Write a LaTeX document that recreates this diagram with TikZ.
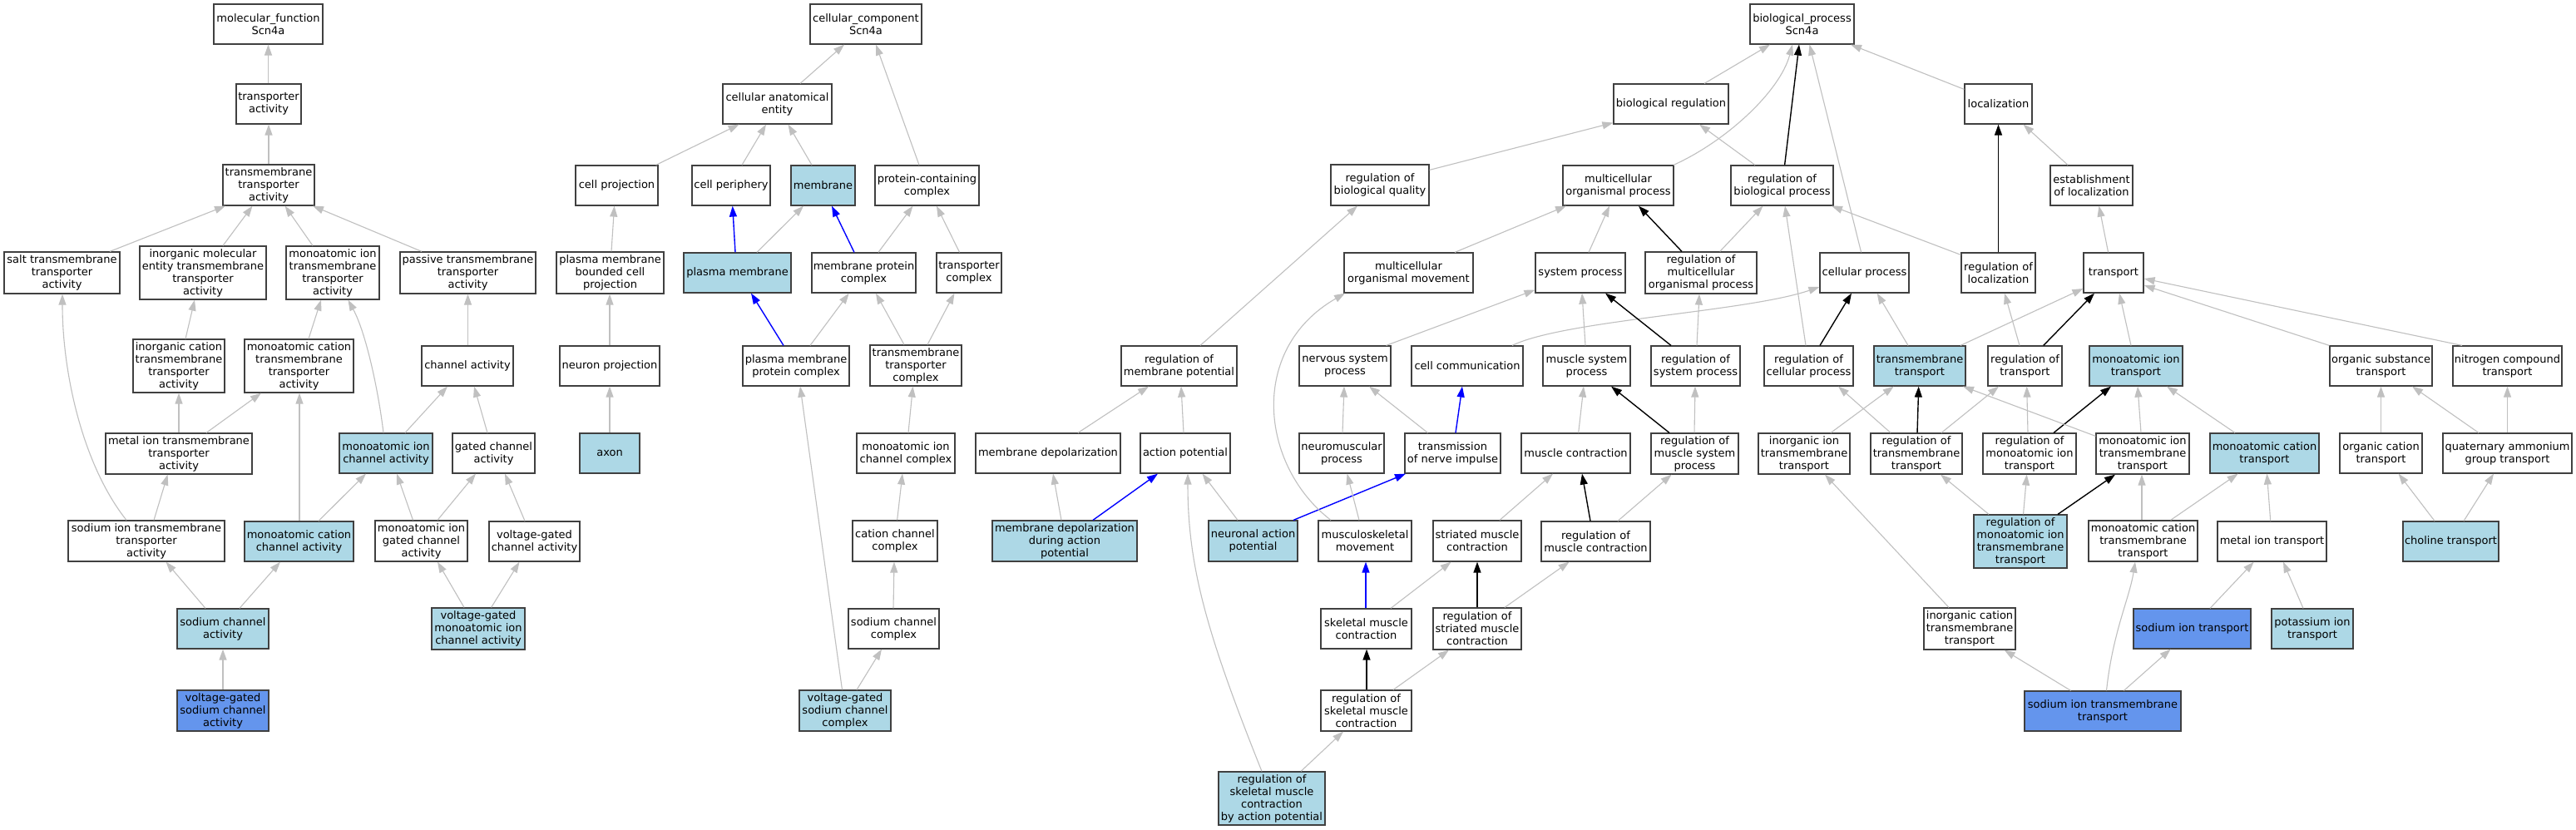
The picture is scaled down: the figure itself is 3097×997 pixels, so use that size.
\documentclass[tikz,border=0pt]{standalone}
\usepackage{fontspec}
\setmainfont{DejaVu Sans}
\usetikzlibrary{arrows.meta}
\definecolor{lb}{HTML}{ADD8E6}
\definecolor{cf}{HTML}{6495ED}
\definecolor{eg}{HTML}{C0C0C0}
\definecolor{bd}{HTML}{404040}
\tikzset{
 box/.style={draw=bd, line width=1.2pt, fill=white, inner sep=0pt, align=center, font=\fontsize{13}{15}\selectfont},
 sz/.style 2 args={minimum width=#1pt, minimum height=#2pt},
 lbf/.style={fill=lb}, cff/.style={fill=cf},
 ge/.style={draw=eg, line width=1.1pt, -{Triangle[length=13pt,width=9pt]}},
 be/.style={draw=black, line width=1.4pt, -{Triangle[length=13pt,width=9pt]}},
 ue/.style={draw=blue, line width=1.4pt, -{Triangle[length=13pt,width=9pt]}},
}
\newcommand\myedge[5][ge]{\draw[#1] (#2.north -| #3,0) -- (#4.south -| #5,0);}
\begin{document}
\begin{tikzpicture}[x=1pt,y=-1pt]
\fill[white] (0,0) rectangle (3097,997);
\useasboundingbox (0,0) rectangle (3097,997);
% ---------------- MF
\node[box,sz={131}{48}] (mf) at (322.5,29) {molecular\_function\\Scn4a};
\node[box,sz={78}{48}] (ta) at (323,125) {transporter\\activity};
\node[box,sz={110}{49}] (tmta) at (323,222.5) {transmembrane\\transporter\\activity};
\node[box,sz={139}{50}] (salt) at (74.5,328) {salt transmembrane\\transporter\\activity};
\node[box,sz={152}{64}] (imeta) at (244,328) {inorganic molecular\\entity transmembrane\\transporter\\activity};
\node[box,sz={112}{64}] (mitmta) at (400,328) {monoatomic ion\\transmembrane\\transporter\\activity};
\node[box,sz={163}{50}] (passive) at (562.5,328) {passive transmembrane\\transporter\\activity};
\node[box,sz={110}{64}] (icta) at (215,440) {inorganic cation\\transmembrane\\transporter\\activity};
\node[box,sz={131}{64}] (mcta) at (359.5,440) {monoatomic cation\\transmembrane\\transporter\\activity};
\node[box,sz={110}{48}] (cha) at (562,440) {channel activity};
\node[box,sz={176}{49}] (mita) at (215,545.5) {metal ion transmembrane\\transporter\\activity};
\node[box,lbf,sz={112}{48}] (mica) at (464,545) {monoatomic ion\\channel activity};
\node[box,sz={99}{48}] (gca) at (593.5,545) {gated channel\\activity};
\node[box,sz={188}{49}] (sitmta) at (176,650.5) {sodium ion transmembrane\\transporter\\activity};
\node[box,lbf,sz={131}{48}] (mcca) at (359.5,651) {monoatomic cation\\channel activity};
\node[box,sz={111}{49}] (migca) at (506.5,650.5) {monoatomic ion\\gated channel\\activity};
\node[box,sz={109}{48}] (vgca) at (642.5,651) {voltage-gated\\channel activity};
\node[box,lbf,sz={110}{48}] (sca) at (268,756) {sodium channel\\activity};
\node[box,lbf,sz={112}{50}] (vgmica) at (575,756) {voltage-gated\\monoatomic ion\\channel activity};
\node[box,cff,sz={110}{49}] (vgsca) at (268,854.5) {voltage-gated\\sodium channel\\activity};
% ---------------- CC
\node[box,sz={134}{48}] (cc) at (1041,29) {cellular\_component\\Scn4a};
\node[box,sz={131}{48}] (cae) at (934.5,125) {cellular anatomical\\entity};
\node[box,sz={99}{48}] (cproj) at (741.5,223) {cell projection};
\node[box,sz={94}{48}] (cper) at (879,223) {cell periphery};
\node[box,lbf,sz={77}{48}] (mem) at (989.5,223) {membrane};
\node[box,sz={125}{48}] (pcc) at (1114.5,223) {protein-containing\\complex};
\node[box,sz={129}{50}] (pmbcp) at (733.5,328) {plasma membrane\\bounded cell\\projection};
\node[box,lbf,sz={129}{48}] (pm) at (886.5,328) {plasma membrane};
\node[box,sz={125}{48}] (mpc) at (1038.5,328) {membrane protein\\complex};
\node[box,sz={78}{48}] (tc) at (1165,328) {transporter\\complex};
\node[box,sz={120}{48}] (nproj) at (733,440) {neuron projection};
\node[box,sz={128}{48}] (pmpc) at (957,440) {plasma membrane\\protein complex};
\node[box,sz={110}{49}] (ttc) at (1101,439.5) {transmembrane\\transporter\\complex};
\node[box,lbf,sz={72}{48}] (axon) at (733,545) {axon};
\node[box,sz={118}{48}] (micc) at (1089,545) {monoatomic ion\\channel complex};
\node[box,sz={102}{49}] (ccc) at (1076,650.5) {cation channel\\complex};
\node[box,sz={109}{48}] (scc) at (1074.5,756) {sodium channel\\complex};
\node[box,lbf,sz={110}{49}] (vgscc) at (1016,854.5) {voltage-gated\\sodium channel\\complex};
% ---------------- BP
\node[box,sz={125}{48}] (bp) at (2166.5,29) {biological\_process\\Scn4a};
\node[box,sz={138}{48}] (breg) at (2009,125) {biological regulation};
\node[box,sz={81}{48}] (loc) at (2402.5,125) {localization};
\node[box,sz={118}{49}] (rbq) at (1659,222.5) {regulation of\\biological quality};
\node[box,sz={133}{48}] (mop) at (1945.5,223) {multicellular\\organismal process};
\node[box,sz={123}{48}] (rbp) at (2142.5,223) {regulation of\\biological process};
\node[box,sz={99}{48}] (eol) at (2514.5,223) {establishment\\of localization};
\node[box,sz={155}{48}] (mom) at (1693.5,328) {multicellular\\organismal movement};
\node[box,sz={108}{48}] (sp) at (1900,328) {system process};
\node[box,sz={134}{50}] (rmop) at (2045,328) {regulation of\\multicellular\\organismal process};
\node[box,sz={107}{48}] (cp) at (2241.5,328) {cellular process};
\node[box,sz={89}{48}] (rol) at (2402.5,328) {regulation of\\localization};
\node[box,sz={72}{48}] (tr) at (2541,328) {transport};
\node[box,sz={139}{48}] (rmp) at (1417.5,440) {regulation of\\membrane potential};
\node[box,sz={110}{48}] (nsp) at (1617,440) {nervous system\\process};
\node[box,sz={134}{48}] (ccom) at (1764,440) {cell communication};
\node[box,sz={105}{48}] (msp) at (1907.5,440) {muscle system\\process};
\node[box,sz={107}{48}] (rsp) at (2038.5,440) {regulation of\\system process};
\node[box,sz={107}{48}] (rcp) at (2174.5,440) {regulation of\\cellular process};
\node[box,lbf,sz={110}{48}] (tmt) at (2308,440) {transmembrane\\transport};
\node[box,sz={89}{48}] (rot) at (2434.5,440) {regulation of\\transport};
\node[box,lbf,sz={112}{48}] (mit) at (2568,440) {monoatomic ion\\transport};
\node[box,sz={123}{48}] (ost) at (2862.5,440) {organic substance\\transport};
\node[box,sz={131}{48}] (nct) at (3014.5,440) {nitrogen compound\\transport};
\node[box,sz={174}{48}] (md) at (1260,545) {membrane depolarization};
\node[box,sz={108}{48}] (ap) at (1425,545) {action potential};
\node[box,sz={102}{48}] (nmp) at (1613,545) {neuromuscular\\process};
\node[box,sz={115}{48}] (tni) at (1746.5,545) {transmission\\of nerve impulse};
\node[box,sz={131}{48}] (mc) at (1894.5,545) {muscle contraction};
\node[box,sz={105}{49}] (rmsp) at (2037.5,545.5) {regulation of\\muscle system\\process};
\node[box,sz={110}{49}] (iitt) at (2169,545.5) {inorganic ion\\transmembrane\\transport};
\node[box,sz={110}{49}] (rtt) at (2304,545.5) {regulation of\\transmembrane\\transport};
\node[box,sz={112}{49}] (rmit) at (2440,545.5) {regulation of\\monoatomic ion\\transport};
\node[box,sz={112}{49}] (mitt) at (2576,545.5) {monoatomic ion\\transmembrane\\transport};
\node[box,lbf,sz={131}{48}] (mct) at (2722.5,545) {monoatomic cation\\transport};
\node[box,sz={99}{48}] (oct) at (2862.5,545) {organic cation\\transport};
\node[box,sz={155}{48}] (qagt) at (3014.5,545) {quaternary ammonium\\group transport};
\node[box,lbf,sz={174}{49}] (mddap) at (1280,650.5) {membrane depolarization\\during action\\potential};
\node[box,lbf,sz={107}{49}] (nap) at (1506.5,650.5) {neuronal action\\potential};
\node[box,sz={112}{49}] (msm) at (1641,650.5) {musculoskeletal\\movement};
\node[box,sz={106}{49}] (stmc) at (1776,650.5) {striated muscle\\contraction};
\node[box,sz={131}{48}] (rmc) at (1918.5,651) {regulation of\\muscle contraction};
\node[box,lbf,sz={112}{64}] (rmitt) at (2429,651) {regulation of\\monoatomic ion\\transmembrane\\transport};
\node[box,sz={131}{49}] (mctt) at (2576.5,650.5) {monoatomic cation\\transmembrane\\transport};
\node[box,sz={131}{48}] (mitr) at (2731.5,651) {metal ion transport};
\node[box,lbf,sz={115}{48}] (chol) at (2946.5,651) {choline transport};
\node[box,sz={109}{48}] (smc) at (1642.5,756) {skeletal muscle\\contraction};
\node[box,sz={106}{50}] (rstmc) at (1776,756) {regulation of\\striated muscle\\contraction};
\node[box,sz={110}{50}] (ictt) at (2368,756) {inorganic cation\\transmembrane\\transport};
\node[box,cff,sz={141}{48}] (sit) at (2635.5,756) {sodium ion transport};
\node[box,lbf,sz={98}{48}] (pit) at (2780,756) {potassium ion\\transport};
\node[box,sz={109}{49}] (rsmc) at (1642.5,854.5) {regulation of\\skeletal muscle\\contraction};
\node[box,cff,sz={188}{48}] (sitt) at (2528,855) {sodium ion transmembrane\\transport};
\node[box,lbf,sz={128}{64}] (rsmcap) at (1529,960) {regulation of\\skeletal muscle\\contraction\\by action potential};
% ================= edges MF
\myedge{ta}{322.5}{mf}{322.5}
\myedge{tmta}{323}{ta}{323}
\myedge{salt}{132}{tmta}{271}
\myedge{imeta}{268}{tmta}{303.5}
\myedge{mitmta}{376}{tmta}{342.6}
\myedge{passive}{507}{tmta}{376}
\myedge{icta}{223}{imeta}{234}
\myedge{mcta}{371}{mitmta}{386}
\myedge{cha}{562.5}{passive}{562.5}
\myedge{mita}{215}{icta}{215}
\myedge{mita}{248}{mcta}{314}
\draw[ge] (mica.north -| 461,0) .. controls (455,470) and (440,400) .. (mitmta.south -| 418.5,0);
\myedge{mica}{487}{cha}{538}
\myedge{gca}{586}{cha}{570}
\draw[ge] (sitmta.north -| 152,0) .. controls (100,560) and (75,450) .. (salt.south -| 75,0);
\myedge{sitmta}{185}{mita}{201.6}
\myedge{mcca}{360}{mcta}{360}
\myedge{mcca}{383}{mica}{440}
\myedge{migca}{496.5}{mica}{477}
\myedge{migca}{526}{gca}{572}
\myedge{vgca}{631}{gca}{607}
\myedge{sca}{247}{sitmta}{199.5}
\myedge{sca}{288}{mcca}{337}
\myedge{vgmica}{558}{migca}{526}
\myedge{vgmica}{590.6}{vgca}{624.5}
\myedge{vgsca}{268}{sca}{268}
% ================= edges CC
\myedge{cae}{962}{cc}{1015}
\myedge{pcc}{1105}{cc}{1053}
\myedge{cproj}{788.6}{cae}{888.6}
\myedge{cper}{892}{cae}{921}
\myedge{mem}{976}{cae}{947.5}
\myedge{pmbcp}{735}{cproj}{738.6}
\myedge[ue]{pm}{884}{cper}{880.7}
\myedge{pm}{910}{mem}{966}
\myedge[ue]{mpc}{1027}{mem}{1000}
\myedge{mpc}{1056}{pcc}{1097.5}
\myedge{tc}{1153.6}{pcc}{1126}
\myedge{nproj}{733}{pmbcp}{733}
\myedge[ue]{pmpc}{942}{pm}{903}
\myedge{pmpc}{974}{mpc}{1020.7}
\myedge{ttc}{1087}{mpc}{1053}
\myedge{ttc}{1115}{tc}{1147.5}
\myedge{axon}{733}{nproj}{733}
\myedge{micc}{1092}{ttc}{1097.5}
\myedge{ccc}{1078.6}{micc}{1085}
\myedge{scc}{1074}{ccc}{1075}
\myedge{vgscc}{1030}{scc}{1060}
\myedge{vgscc}{1012.5}{pmpc}{962}
% ================= edges BP
\myedge{breg}{2049}{bp}{2128}
\draw[ge] (mop.north -| 2012,0) .. controls (2075,170) and (2140,110) .. (bp.south -| 2155,0);
\myedge[be]{rbp}{2145.6}{bp}{2163}
\myedge{cp}{2237.6}{bp}{2175.5}
\draw[ge] ([yshift=-7pt]loc.north west) -- (bp.south -| 2225,0);
\draw[ge] ([yshift=-7pt]rbq.north east) -- ([yshift=2pt]breg.south west);
\myedge{rbp}{2110}{breg}{2043}
\myedge{eol}{2486}{loc}{2432.5}
\myedge[be]{rol}{2402.5}{loc}{2402.5}
\draw[ge] ([yshift=-3pt]rol.north west) -- (rbp.south -| 2202,0);
\myedge{mom}{1749}{mop}{1883}
\myedge{sp}{1910}{mop}{1935}
\myedge[be]{rmop}{2022}{mop}{1970}
\myedge{rmop}{2067.7}{rbp}{2119.5}
\myedge{rcp}{2171}{rbp}{2146}
\myedge{tr}{2534.6}{eol}{2523.5}
\myedge{rmp}{1443}{rbq}{1632}
\draw[ge] (nsp.north -| 1666.5,0) -- ([yshift=4pt]sp.south west);
\draw[ge] (ccom.north -| 1818,0) .. controls (1880,385) and (2100,375) .. ([yshift=-17pt]cp.west);
\myedge{msp}{1906}{sp}{1902}
\myedge[be]{rsp}{2009}{sp}{1930}
\myedge{rsp}{2040}{rmop}{2043}
\myedge[be]{rcp}{2188}{cp}{2226}
\myedge{tmt}{2294}{cp}{2256.7}
\draw[ge] (tmt.north -| 2357,0) -- ([yshift=-19pt]tr.west);
\myedge{rot}{2428}{rol}{2410}
\myedge[be]{rot}{2456.7}{tr}{2518}
\myedge{mit}{2562}{tr}{2548}
\draw[ge] (ost.north west) -- ([yshift=-15pt]tr.east);
\draw[ge] (nct.north -| 2960,0) -- ([yshift=-7pt]tr.east);
\myedge{md}{1296}{rmp}{1381}
\myedge{ap}{1423}{rmp}{1420}
\myedge{nmp}{1614}{nsp}{1616}
\myedge{tni}{1716.5}{nsp}{1646}
\myedge[ue]{tni}{1750}{ccom}{1758}
\myedge{mc}{1897.7}{msp}{1904}
\myedge{rmsp}{2037}{rsp}{2038}
\myedge[be]{rmsp}{2007}{msp}{1937}
\myedge{iitt}{2201}{tmt}{2276.7}
\myedge{rtt}{2273}{rcp}{2210}
\myedge[be]{rtt}{2305}{tmt}{2306.7}
\myedge{rtt}{2334}{rot}{2403}
\myedge{rmit}{2438}{rot}{2436.7}
\myedge[be]{rmit}{2469}{mit}{2538}
\draw[ge] ([yshift=-4pt]mitt.north west) -- (tmt.south -| 2360,0);
\myedge{mitt}{2574}{mit}{2570}
\myedge{mct}{2687}{mit}{2605}
\myedge{oct}{2862.5}{ost}{2862.5}
\myedge{qagt}{2980}{ost}{2900}
\myedge{qagt}{3014.5}{nct}{3014.5}
\myedge{mddap}{1276}{md}{1266}
\myedge[ue]{mddap}{1314}{ap}{1392}
\myedge{nap}{1488}{ap}{1445.5}
\draw[ue] (nap.north -| 1555,0) -- (tni.south -| 1690,0);
\draw[ge] (msm.north -| 1600,0) .. controls (1515,560) and (1500,420) .. (mom.south -| 1617,0);
\myedge{msm}{1634}{nmp}{1619.6}
\myedge{stmc}{1803}{mc}{1867}
\myedge[be]{rmc}{1912}{mc}{1902}
\myedge{rmc}{1945}{rmsp}{2009.6}
\myedge{rmitt}{2391}{rtt}{2333}
\myedge{rmitt}{2432.5}{rmit}{2436.7}
\myedge[be]{rmitt}{2474}{mitt}{2543}
\myedge{mctt}{2575}{mitt}{2575}
\myedge{mctt}{2609.6}{mct}{2690.6}
\myedge{mitr}{2729.7}{mct}{2725.4}
\myedge{chol}{2927}{oct}{2883.6}
\myedge{chol}{2962}{qagt}{2998}
\myedge[ue]{smc}{1642}{msm}{1642}
\myedge{smc}{1672}{stmc}{1744.6}
\myedge[be]{rstmc}{1776}{stmc}{1776}
\myedge{rstmc}{1809}{rmc}{1886.6}
\myedge{ictt}{2343}{iitt}{2194}
\myedge{sit}{2657}{mitr}{2709.7}
\myedge{pit}{2769}{mitr}{2745}
\myedge[be]{rsmc}{1643}{smc}{1643}
\myedge{rsmc}{1675}{rstmc}{1742}
\myedge{rsmcap}{1564}{rsmc}{1615}
\draw[ge] (rsmcap.north -| 1517,0) .. controls (1450,760) and (1428,680) .. (ap.south -| 1428,0);
\myedge{sitt}{2489.6}{ictt}{2409.6}
\draw[ge] (sitt.north -| 2532.5,0) .. controls (2540,760) and (2560,720) .. (mctt.south -| 2567,0);
\myedge{sitt}{2553.4}{sit}{2609.6}
\end{tikzpicture}
\end{document}
